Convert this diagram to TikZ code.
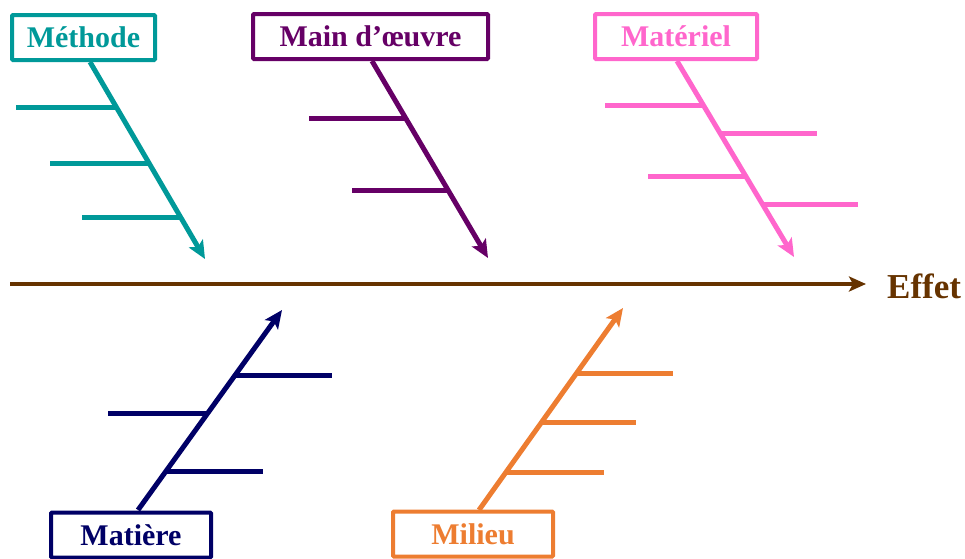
\documentclass[tikz,border=0pt]{standalone}
\usepackage{fontspec}
\setmainfont{Liberation Serif}
\usetikzlibrary{arrows.meta}
\definecolor{cteal}{HTML}{009999}
\definecolor{cpurple}{HTML}{660066}
\definecolor{cpink}{HTML}{FF66CC}
\definecolor{cnavy}{HTML}{000066}
\definecolor{corange}{HTML}{ED7D31}
\definecolor{cbrown}{HTML}{663300}
\tikzset{
  catbox/.style={draw=#1, text=#1, fill=white, line width=4pt, rounded corners=1pt, inner sep=0pt,
    minimum height=45pt, font=\fontsize{30}{33}\selectfont\bfseries},
  spine/.style={line width=5pt, -{Stealth[length=18pt,width=16pt,inset=4pt]}},
  branch/.style={line width=5pt},
}
\begin{document}
\begin{tikzpicture}[x=1pt,y=-1pt]
\useasboundingbox (0,0) rectangle (965,558);
% main axis
\coordinate (axs) at (10,284);
\coordinate (axe) at (866,284);
\node[anchor=west, text=cbrown, font=\fontsize{35}{38}\selectfont\bfseries, inner sep=0pt] (effet) at (887,286) {Effet};
\draw[line width=4pt, cbrown, -{Stealth[length=17pt,width=15pt,inset=4pt]}] (axs) -- (axe);

% Methode
\draw[spine, cteal] (90,62) coordinate (mA) -- (205,259) coordinate (mB);
\draw[branch, cteal] (16,107) -- (116,107);
\draw[branch, cteal] (50,163) -- (149,163);
\draw[branch, cteal] (82,217) -- (181,217);
\node[catbox=cteal, minimum width=143pt] (meth) at (83.5,37.5) {Méthode};

% Main d'oeuvre
\draw[spine, cpurple] (372,61) coordinate (oA) -- (488,258) coordinate (oB);
\draw[branch, cpurple] (309,118) -- (406,118);
\draw[branch, cpurple] (352,190) -- (448,190);
\node[catbox=cpurple, minimum width=235pt] (main) at (370.5,36.5) {Main d’œuvre};

% Materiel
\draw[spine, cpink] (677,61) coordinate (tA) -- (794,257) coordinate (tB);
\draw[branch, cpink] (605,105) -- (703,105);
\draw[branch, cpink] (720,133) -- (817,133);
\draw[branch, cpink] (648,176) -- (746,176);
\draw[branch, cpink] (762,204) -- (858,204);
\node[catbox=cpink, minimum width=162pt] (mat) at (676,36.5) {Matériel};

% Matiere
\draw[spine, cnavy] (138,510) coordinate (rA) -- (282,310) coordinate (rB);
\draw[branch, cnavy] (234,375) -- (332,375);
\draw[branch, cnavy] (108,413) -- (207,413);
\draw[branch, cnavy] (165,471) -- (263,471);
\node[catbox=cnavy, minimum width=160pt] (matiere) at (131,535) {Matière};

% Milieu
\draw[spine, corange] (479,510) coordinate (lA) -- (623,308) coordinate (lB);
\draw[branch, corange] (576,373) -- (673,373);
\draw[branch, corange] (541,422) -- (636,422);
\draw[branch, corange] (505,472) -- (604,472);
\node[catbox=corange, minimum width=160pt] (milieu) at (473,534) {Milieu};
\end{tikzpicture}
\end{document}
